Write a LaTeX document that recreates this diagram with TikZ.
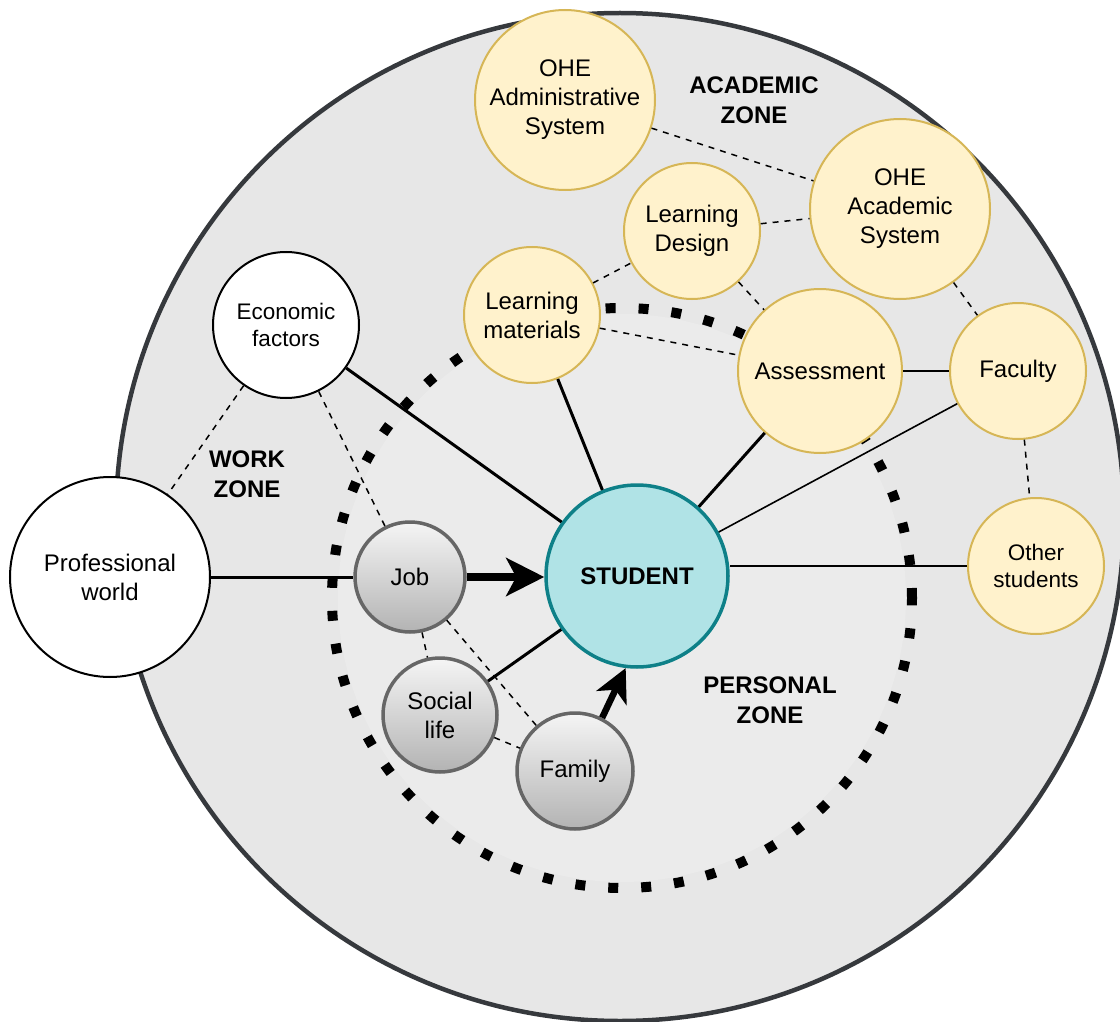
\documentclass[tikz,border=0pt]{standalone}
\usepackage{fontspec}
\setmainfont{Liberation Sans}
\usetikzlibrary{arrows.meta}
\definecolor{zonefill}{HTML}{E7E7E7}
\definecolor{personalfill}{HTML}{EBEBEB}
\definecolor{zoneline}{HTML}{36393D}
\definecolor{acadfill}{HTML}{FFF2CC}
\definecolor{acadline}{HTML}{D6B656}
\definecolor{studfill}{HTML}{B0E3E6}
\definecolor{studline}{HTML}{0E8088}
\definecolor{persline}{HTML}{666666}
\definecolor{perstop}{HTML}{F5F5F5}
\definecolor{persbot}{HTML}{B3B3B3}
\tikzstyle{bubble}=[circle, inner sep=0pt, align=center, font=\fontsize{24}{29}\selectfont]
\tikzstyle{acad}=[bubble, draw=acadline, fill=acadfill, line width=2pt]
\tikzstyle{work}=[bubble, draw=black, fill=white, line width=2pt]
\tikzstyle{pers}=[bubble, draw=persline, top color=perstop, bottom color=persbot, line width=3.5pt]
\tikzstyle{stud}=[bubble, draw=studline, fill=studfill, line width=3.5pt, font=\fontsize{24}{29}\selectfont\bfseries]
\tikzstyle{zonetext}=[align=center, font=\fontsize{24}{30}\selectfont\bfseries]
\tikzstyle{loose}=[line width=1.5pt, dash pattern=on 6pt off 6pt]
\tikzstyle{tie}=[line width=3pt]
\tikzstyle{weak}=[line width=1.6pt]
\tikzstyle{push}=[line width=8pt, -{Stealth[length=38pt, width=38pt, inset=10pt]}]

\begin{document}
\begin{tikzpicture}[x=1pt, y=-1pt]
  \useasboundingbox (0,0) rectangle (1120,1022);
  \draw[fill=zonefill, draw=zoneline, line width=4.5pt] (620,517) circle (504pt);
  \fill[personalfill] (622,598) circle (284pt);
  \draw[line width=10pt, dash pattern=on 10pt off 23pt] (622,598) circle (290pt);

  \node[zonetext] (acadzone) at (754,100) {ACADEMIC\\ZONE};
  \node[zonetext] (workzone) at (247,474) {WORK\\ZONE};
  \node[zonetext] (perszone) at (770,700) {PERSONAL\\ZONE};

  \node[acad, minimum size=180pt] (admin) at (565,100) {OHE\\Administrative\\System};
  \node[acad, minimum size=180pt] (acadsys) at (900,209) {OHE\\Academic\\System};
  \node[acad, minimum size=136pt] (design) at (692,231) {Learning\\Design};
  \node[acad, minimum size=136pt] (materials) at (532,315) {Learning\\materials};
  \node[acad, minimum size=164pt] (assess) at (820,371) {Assessment};
  \node[acad, minimum size=136pt] (faculty) at (1018,371) {Faculty};
  \node[acad, minimum size=136pt, font=\fontsize{22.5}{27}\selectfont] (others) at (1036,566) {Other\\students};

  \node[work, minimum size=146pt, font=\fontsize{22.5}{27}\selectfont] (econ) at (286,325) {Economic\\factors};
  \node[work, minimum size=200pt] (prof) at (110,577) {Professional\\world};

  \node[pers, minimum size=110pt] (job) at (410,577) {Job};
  \node[pers, minimum size=114pt] (social) at (440,715) {Social\\life};
  \node[pers, minimum size=116pt] (family) at (575,771) {Family};

  \node[stud, minimum size=182pt] (student) at (637,576) {STUDENT};

  \draw[loose] (econ) -- (prof);
  \draw[loose] (econ) -- (job);
  \draw[loose] (job) -- (social);
  \draw[loose] (job) -- (family);
  \draw[loose] (social) -- (family);
  \draw[loose] (materials) -- (design);
  \draw[loose] (materials) -- (assess);
  \draw[loose] (design) -- (assess);
  \draw[loose] (design) -- (acadsys);
  \draw[loose] (admin) -- (acadsys);
  \draw[loose] (acadsys) -- (faculty);
  \draw[loose] (faculty) -- (others);

  \draw[tie] (prof.east) -- (job.west);
  \draw[tie] (econ) -- (student);
  \draw[tie] (social) -- (student);
  \draw[tie] (materials) -- (student);
  \draw[tie] (assess) -- (student);
  \draw[weak] (assess) -- (faculty);
  \draw[weak] (faculty) -- (student);
  \draw[weak] (others.west) -- (others.west -| student.east);

  \draw[push] (job.east) -- (student.west |- job.east);
  \draw[push, line width=6.5pt, -{Stealth[length=33pt, width=33pt, inset=9pt]}] (family.63) -- (student.-97);
\end{tikzpicture}
\end{document}
